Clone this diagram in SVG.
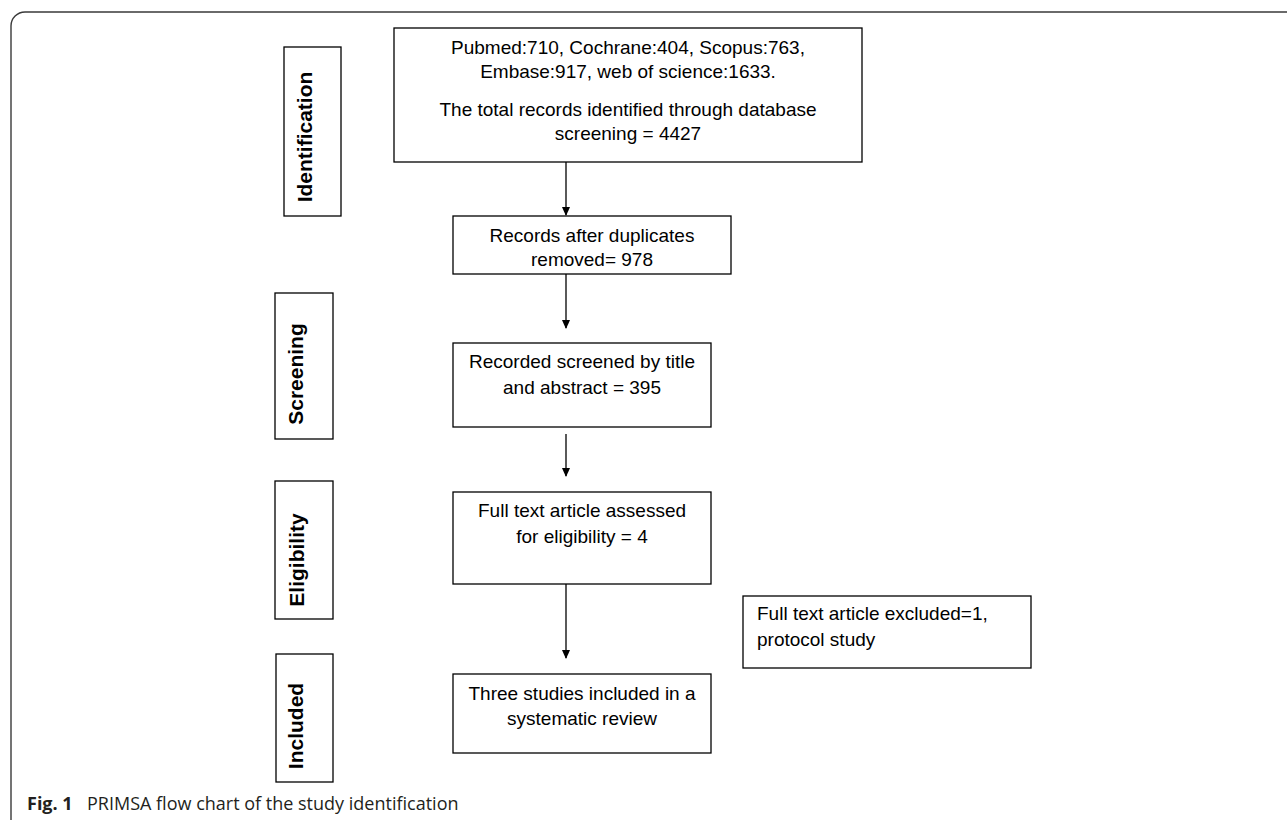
<svg xmlns="http://www.w3.org/2000/svg" width="1287" height="820" viewBox="0 0 1287 820">
<style>
.box{fill:#fff;stroke:#000;stroke-width:1.3}
.lab{fill:#fff;stroke:#000;stroke-width:1.3}
.t{font-family:"Liberation Sans",Arial,sans-serif;font-size:19px;fill:#000}
.c{text-anchor:middle}
.v{font-family:"Liberation Sans",Arial,sans-serif;font-size:21px;font-weight:bold;fill:#000;text-anchor:middle}
.cap{font-family:"Open Sans","Noto Sans",sans-serif;font-size:18px;fill:#231f20}
.con line{stroke:#000;stroke-width:1.3}
</style>
<defs>
<marker id="ah" markerWidth="9" markerHeight="10" refX="9" refY="4.5" orient="auto" markerUnits="userSpaceOnUse" viewBox="0 0 10 9">
<path d="M0,0 L10,4.5 L0,9 Z" fill="#000"/>
</marker>
</defs>
<rect width="1287" height="820" fill="#fff"/>
<path d="M11,820 V26 A14,14 0 0 1 25,12 H1287" fill="none" stroke="#3a3a3a" stroke-width="1.4"/>

<g id="lab-identification"><rect class="lab" x="284" y="47" width="57" height="169"/><text class="v" transform="translate(312,137) rotate(-90)">Identification</text></g>
<g id="lab-screening"><rect class="lab" x="275" y="293" width="58" height="146"/><text class="v" transform="translate(303,374) rotate(-90)">Screening</text></g>
<g id="lab-eligibility"><rect class="lab" x="275" y="481" width="58" height="138"/><text class="v" transform="translate(304,560) rotate(-90)">Eligibility</text></g>
<g id="lab-included"><rect class="lab" x="276" y="654" width="57" height="128"/><text class="v" transform="translate(303,726) rotate(-90)">Included</text></g>

<g id="n-identified"><rect class="box" x="394" y="28" width="468" height="134"/>
<text class="t c" x="628" y="54">Pubmed:710, Cochrane:404, Scopus:763,</text>
<text class="t c" x="628" y="78">Embase:917, web of science:1633.</text>
<text class="t c" x="628" y="116">The total records identified through database</text>
<text class="t c" x="628" y="140">screening = 4427</text></g>

<g id="n-duplicates"><rect class="box" x="453" y="216" width="278" height="58"/>
<text class="t c" x="592" y="242">Records after duplicates</text>
<text class="t c" x="592" y="266">removed= 978</text></g>

<g id="n-screened"><rect class="box" x="453" y="343" width="258" height="84"/>
<text class="t c" x="582" y="368">Recorded screened by title</text>
<text class="t c" x="582" y="394">and abstract = 395</text></g>

<g id="n-eligibility"><rect class="box" x="453" y="492" width="258" height="92"/>
<text class="t c" x="582" y="517">Full text article assessed</text>
<text class="t c" x="582" y="543">for eligibility = 4</text></g>

<g id="n-included"><rect class="box" x="453" y="674" width="258" height="79"/>
<text class="t c" x="582" y="700">Three studies included in a</text>
<text class="t c" x="582" y="725">systematic review</text></g>

<g id="n-excluded"><rect class="box" x="743" y="596" width="288" height="72"/>
<text class="t" x="757" y="620">Full text article excluded=1,</text>
<text class="t" x="757" y="646">protocol study</text></g>

<g id="connectors" class="con">
<line x1="566" y1="162" x2="566" y2="215" marker-end="url(#ah)"/>
<line x1="566" y1="274" x2="566" y2="328" marker-end="url(#ah)"/>
<line x1="566" y1="434" x2="566" y2="476" marker-end="url(#ah)"/>
<line x1="566" y1="584" x2="566" y2="658" marker-end="url(#ah)"/>
</g>

<g id="caption"><text class="cap" x="27" y="810"><tspan font-weight="bold">Fig. 1</tspan></text><text class="cap" x="87" y="810">PRIMSA flow chart of the study identification</text></g>
</svg>
